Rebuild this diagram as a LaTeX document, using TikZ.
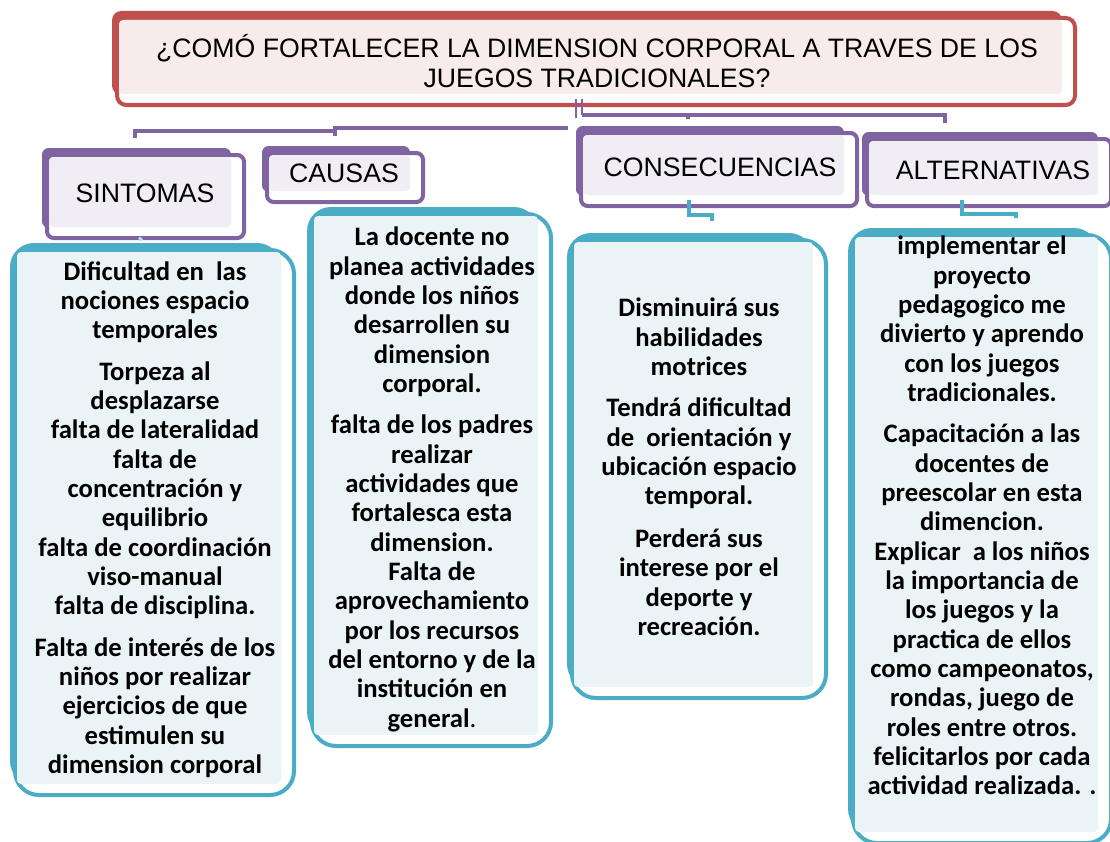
\documentclass[tikz,border=0pt]{standalone}
\usepackage{fontspec}
\setmainfont{Liberation Sans}
\newfontfamily\bodyfont{Carlito}
\usetikzlibrary{fit,calc}

\definecolor{titlered}{HTML}{C0504D}
\definecolor{titlepink}{HTML}{F7EBEB}
\definecolor{headpurple}{HTML}{8064A2}
\definecolor{headlilac}{HTML}{F0EEF4}
\definecolor{boxteal}{HTML}{4BACC6}
\definecolor{boxice}{HTML}{EAF4F7}

\tikzset{
  headtext/.style={font=\fontsize{20}{22}\selectfont, align=center, inner sep=0pt},
  bodytext/.style={font=\bodyfont\bfseries\fontsize{20}{22}\selectfont, align=center, inner sep=0pt, anchor=north},
  purpleline/.style={headpurple, line width=3.2pt},
  tealline/.style={boxteal, line width=3pt},
}

% panel: name, top left x y, bottom right x y, line colour, inner colour, radius
\newcommand{\panel}[8]{%
  \fill[#6, rounded corners=#8] (#2,#3) rectangle (#4-15,#5-12);
  \node[draw=#6, line width=3pt, fill=white, rounded corners=#8, inner sep=0pt,
        fit={(#2+5,#3+7) (#4-2,#5-2)}] (#1) {};
  \fill[#7, rounded corners=3pt] (#2+7,#3+9) rectangle (#4-15,#5-13);
}

\begin{document}
\begin{tikzpicture}[x=0.75pt,y=-0.75pt]
\useasboundingbox (0,0) rectangle (1110,842);

% Pregunta

\panel{title}{112}{11}{1077}{107}{titlered}{titlepink}{7pt}
\node[headtext] (question) at (597,61) {¿COMÓ FORTALECER LA DIMENSION CORPORAL A TRAVES DE LOS\\JUEGOS TRADICIONALES?};

% Ramas

\coordinate (forkR) at (582,115);
\coordinate (forkL) at (568,128);
\coordinate (altend) at (945,123);
\coordinate (step) at (335,131);
\coordinate (sintend) at (135,138);

\draw[purpleline, line width=1.8pt] (576,99) -- (576,118);
\draw[purpleline, line width=1.8pt] (forkR |- 0,99) -- (forkR);
\draw[purpleline] (forkR) -| (altend);
\draw[purpleline] (688,115) -- (688,119);
\draw[purpleline] (forkL) -| (335,136);
\draw[purpleline] (step) -| (sintend);

% Titulos

\panel{sint}{42}{148}{246}{240}{headpurple}{headlilac}{5pt}
\panel{caus}{262}{146}{425}{204}{headpurple}{headlilac}{5pt}
\panel{cons}{576}{126}{859}{208}{headpurple}{headlilac}{5pt}
\panel{alt}{862}{132}{1113}{208}{headpurple}{headlilac}{5pt}

\node[headtext] (sinttext) at (145,193) {SINTOMAS};
\node[headtext] (caustext) at (344,173) {CAUSAS};
\node[headtext] (constext) at (720,167) {CONSECUENCIAS};
\node[headtext] (alttext) at (993,170) {ALTERNATIVAS};

% Cuadros

\panel{box1}{10}{243}{296}{797}{boxteal}{boxice}{18pt}
\panel{box2}{307}{207}{553}{748}{boxteal}{boxice}{18pt}
\panel{box3}{567}{233}{828}{700}{boxteal}{boxice}{18pt}
\panel{box4}{848}{228}{1113}{845}{boxteal}{boxice}{18pt}

\draw[tealline] ($(cons.south)+(-30,-8)$) |- ($(box3.north)+(13,-23)$) -- ($(box3.north)+(13,-17)$);
\draw[tealline] ($(alt.south)+(-27,-8)$) |- ($(box4.north)+(34,-19)$) -- ($(box4.north)+(34,-15)$);
\draw[boxteal!40, line width=3pt] ($(sint.south)+(-6,0)$) -- ($(box1.north)+(-13,-10)$);

\node[bodytext] (sintlist) at (155,261) {Dificultad en\ \ las\\nociones espacio\\temporales\\[9pt]
Torpeza al\\desplazarse\\falta de lateralidad\\falta de\\concentración y\\equilibrio\\falta de coordinación\\viso-manual\\falta de disciplina.\\[9pt]
Falta de interés de los\\niños por realizar\\ejercicios de que\\estimulen su\\dimension corporal};

\node[bodytext] (causlist) at (432,227) {La docente no\\planea actividades\\donde los niños\\desarrollen su\\dimension\\corporal.\\[9pt]
falta de los padres\\realizar\\actividades que\\fortalesca esta\\dimension.\\Falta de\\aprovechamiento\\por los recursos\\del entorno y de la\\institución en\\general{\mdseries .}};

\node[bodytext] (conslist) at (699,298) {Disminuirá sus\\habilidades\\motrices\\[9pt]
Tendrá dificultad\\de\ \ orientación y\\ubicación espacio\\temporal.\\[10pt]
Perderá sus\\interese por el\\deporte y\\recreación.};

\node[bodytext] (altlist) at (982,236) {implementar el\\proyecto\\pedagogico me\\divierto y aprendo\\con los juegos\\tradicionales.\\[9pt]
Capacitación a las\\docentes de\\preescolar en esta\\dimencion.\\Explicar\ \ a los niños\\la importancia de\\los juegos y la\\practica de ellos\\como campeonatos,\\rondas, juego de\\roles entre otros.\\felicitarlos por cada\\actividad realizada. .};

\end{tikzpicture}
\end{document}
